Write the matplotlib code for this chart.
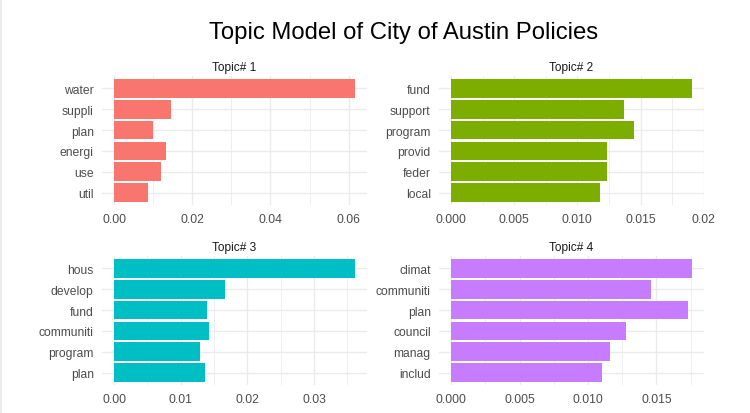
import matplotlib
matplotlib.use("Agg")
import matplotlib.pyplot as plt
from matplotlib.ticker import FixedLocator
import matplotlib.patches as mpatches

plt.rcParams['font.family'] = ['Liberation Sans', 'DejaVu Sans']

title = "Topic Model of City of Austin Policies"

topic1_terms = ["water", "suppli", "plan", "energi", "use", "util"]
topic1_beta = [0.0616, 0.0146, 0.0100, 0.0133, 0.0120, 0.0086]

topic2_terms = ["fund", "support", "program", "provid", "feder", "local"]
topic2_beta = [0.01907, 0.01370, 0.01450, 0.01235, 0.01235, 0.01180]

topic3_terms = ["hous", "develop", "fund", "communiti", "program", "plan"]
topic3_beta = [0.03615, 0.01665, 0.01395, 0.01425, 0.01290, 0.01365]

topic4_terms = ["climat", "communiti", "plan", "council", "manag", "includ"]
topic4_beta = [0.01759, 0.01461, 0.01732, 0.01278, 0.01161, 0.01102]

strip_titles = ["Topic# 1", "Topic# 2", "Topic# 3", "Topic# 4"]
colors = ["#F8766D", "#7CAE00", "#00BFC4", "#C77CFF"]

major_ticks = [
    [0.0, 0.02, 0.04, 0.06],
    [0.0, 0.005, 0.010, 0.015, 0.020],
    [0.0, 0.01, 0.02, 0.03],
    [0.0, 0.005, 0.010, 0.015],
]
tick_labels = [
    ["0.00", "0.02", "0.04", "0.06"],
    ["0.000", "0.005", "0.010", "0.015", "0.02"],
    ["0.00", "0.01", "0.02", "0.03"],
    ["0.000", "0.005", "0.010", "0.015"],
]

W, H = 750, 414
fig = plt.figure(figsize=(W / 100, H / 100), dpi=100)
fig.patch.set_facecolor("white")

# light gray left border strip
fig.patches.append(mpatches.Rectangle((0, 0), 2 / W, 1, transform=fig.transFigure,
                                      facecolor="#ececec", edgecolor="none", zorder=0))

fig.text(404 / W, 1 - 33 / H, title, ha="center", va="center", fontsize=17.2, color="black")

boxes = [
    (102, 77, 367, 206),
    (439, 77, 704, 206),
    (102, 257, 367, 386),
    (439, 257, 704, 386),
]
data = [(topic1_terms, topic1_beta), (topic2_terms, topic2_beta),
        (topic3_terms, topic3_beta), (topic4_terms, topic4_beta)]

grid_col = "#ebebeb"
for i, ((x0, y0, x1, y1), (terms, vals)) in enumerate(zip(boxes, data)):
    ax = fig.add_axes([x0 / W, 1 - y1 / H, (x1 - x0) / W, (y1 - y0) / H])
    ax.set_facecolor("white")
    n = len(terms)
    ypos = list(range(n))[::-1]
    ax.barh(ypos, vals, height=0.9, color=colors[i], zorder=2)
    vmax = max(vals)
    ax.set_xlim(-0.05 * vmax, 1.05 * vmax)
    ax.set_ylim(-0.6, n - 0.4)
    ax.set_yticks(ypos)
    ax.set_yticklabels(terms)
    ticks = major_ticks[i]
    ax.xaxis.set_major_locator(FixedLocator(ticks))
    ax.set_xticklabels(tick_labels[i])
    step = ticks[1] - ticks[0]
    minors = [t + step / 2 for t in ticks] + [ticks[0] - step / 2]
    ax.xaxis.set_minor_locator(FixedLocator(minors))
    ax.grid(True, which="major", axis="both", color=grid_col, linewidth=1.0, zorder=0)
    ax.grid(True, which="minor", axis="x", color=grid_col, linewidth=0.6, zorder=0)
    ax.set_axisbelow(True)
    for s in ax.spines.values():
        s.set_visible(False)
    ax.tick_params(axis="both", which="both", length=0, labelsize=8.7, labelcolor="#4d4d4d")
    ax.tick_params(axis="y", pad=6)
    ax.tick_params(axis="x", pad=6)
    ax.set_title(strip_titles[i], fontsize=8.6, color="#1a1a1a", pad=4)

fig.savefig("out.png", dpi=100, facecolor="white")
